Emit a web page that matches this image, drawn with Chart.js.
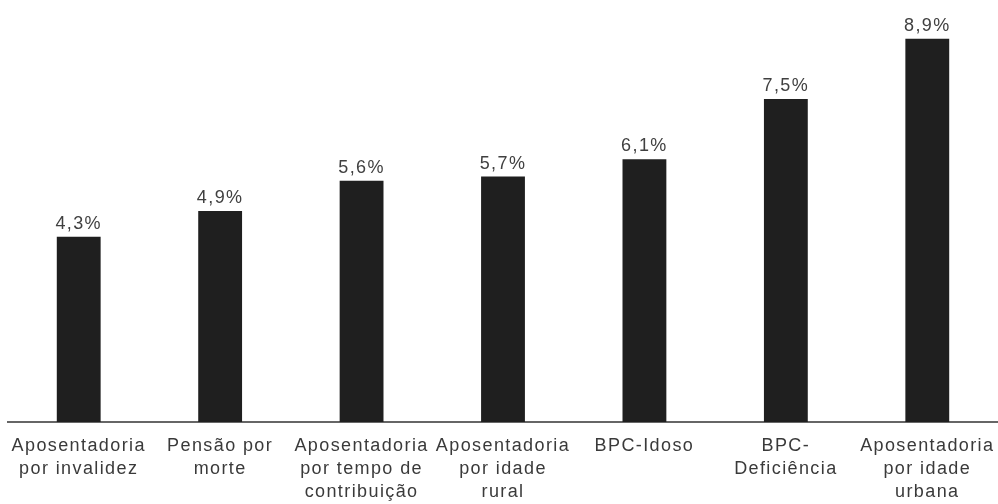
<!DOCTYPE html>
<html>
<head>
<meta charset="utf-8">
<script src="https://cdn.jsdelivr.net/npm/chart.js@4/dist/chart.umd.min.js"></script>
<style>
  html, body { margin: 0; padding: 0; background: #fff; overflow: hidden; }
</style>
</head>
<body>
<canvas id="c" width="998" height="504"></canvas>
<script>
const categories = [
  ["Aposentadoria", "por invalidez"],
  ["Pensão por", "morte"],
  ["Aposentadoria", "por tempo de", "contribuição"],
  ["Aposentadoria", "por idade", "rural"],
  "BPC-Idoso",
  ["BPC-", "Deficiência"],
  ["Aposentadoria", "por idade", "urbana"]
];
const values = [4.3, 4.9, 5.6, 5.7, 6.1, 7.5, 8.9];
const yMax = 9.8;

const FONT = "'Liberation Sans', Arial, Helvetica, sans-serif";
const SPACING = '1.4px';

const spacingPlugin = {
  id: 'spacing',
  beforeLayout(chart) { chart.ctx.letterSpacing = SPACING; },
  beforeDraw(chart) { chart.ctx.letterSpacing = SPACING; }
};

const valueLabels = {
  id: 'valueLabels',
  afterDatasetsDraw(chart) {
    const ctx = chart.ctx;
    const meta = chart.getDatasetMeta(0);
    ctx.save();
    ctx.letterSpacing = SPACING;
    ctx.font = '18px ' + FONT;
    ctx.fillStyle = '#404040';
    ctx.textAlign = 'center';
    ctx.textBaseline = 'alphabetic';
    meta.data.forEach((bar, i) => {
      const txt = values[i].toFixed(1).replace('.', ',') + '%';
      ctx.fillText(txt, bar.x, bar.y - 8);
    });
    ctx.restore();
  }
};

new Chart(document.getElementById('c'), {
  type: 'bar',
  data: {
    labels: categories,
    datasets: [{
      data: values,
      backgroundColor: '#1f1f1f',
      borderWidth: 0,
      barPercentage: 0.31,
      categoryPercentage: 1.0
    }]
  },
  options: {
    responsive: false,
    animation: false,
    layout: { padding: { left: 8, right: -4, top: 0, bottom: -13 } },
    plugins: { legend: { display: false }, tooltip: { enabled: false } },
    scales: {
      x: {
        afterFit(scale) { scale.paddingLeft = 0; scale.paddingRight = -4; },
        grid: { display: false, drawTicks: false },
        border: { display: true, color: '#666', width: 2 },
        ticks: {
          color: '#3a3a3a',
          font: { family: FONT, size: 18, lineHeight: 1.28 },
          padding: 13,
          maxRotation: 0,
          autoSkip: false
        }
      },
      y: {
        display: false,
        min: 0,
        max: yMax
      }
    }
  },
  plugins: [spacingPlugin, valueLabels]
});
</script>
</body>
</html>
